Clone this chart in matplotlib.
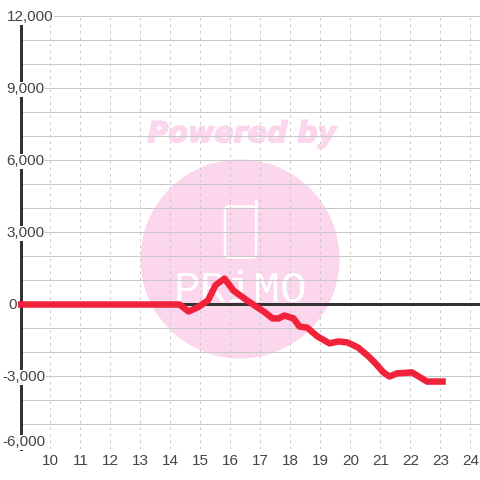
#!/usr/bin/env python
import matplotlib
matplotlib.use('Agg')
import matplotlib.pyplot as plt
import matplotlib.patheffects as pe
from matplotlib.patches import Circle, FancyBboxPatch

# values
hours = [8.96, 14.3, 14.6, 14.9, 15.25, 15.5, 15.8, 16.1, 16.55, 17.15, 17.4, 17.6, 17.8, 18.1,
         18.3, 18.55, 18.9, 19.3, 19.6, 19.9, 20.25, 20.6, 20.8, 21.1, 21.3, 21.55, 22.05,
         22.55, 23.07]
profit = [0, 0, -290, -125, 170, 800, 1080, 580, 170, -330, -580, -580, -460, -580,
          -920, -960, -1330, -1620, -1540, -1580, -1790, -2160, -2410, -2830, -3000, -2870, -2830,
          -3210, -3210]
xticks = list(range(10, 25))
yticks = list(range(-6000, 12001, 1000))
ylabels = [(12000, '12,000', -14, -1), (9000, '9,000', -14, -1), (6000, '6,000', -14, -1),
           (3000, '3,000', -14, -1), (0, '0', -12, -1), (-3000, '-3,000', -18, -1),
           (-6000, '-6,000', -18, 6)]

DARK = '#333333'
GRID = '#c8c8c8'
TEXT = '#444444'
PINK = '#fbd6ec'
PX = 0.72  # one pixel in points at dpi 100

plt.rcParams['font.family'] = ['Liberation Sans', 'DejaVu Sans']

fig = plt.figure(figsize=(4.8, 4.8), dpi=100)

# watermark sits behind everything, in pixel coordinates
bg = fig.add_axes([0, 0, 1, 1], zorder=0)
bg.set_xlim(0, 480)
bg.set_ylim(480, 0)
bg.axis('off')
bg.add_patch(Circle((240, 259), 99.5, fc=PINK, ec='none'))
bg.add_patch(FancyBboxPatch((225, 206.5), 31, 51, boxstyle='round,pad=0,rounding_size=4',
                            fc='none', ec='white', lw=2.5 * PX))
bg.plot([255.5, 255.5], [201, 209], color='white', lw=3 * PX, solid_capstyle='round')
bg.text(242, 134, 'Powered by', color=PINK, family='DejaVu Sans', weight='bold', style='italic',
        fontsize=20.5, ha='center', va='center',
        path_effects=[pe.withStroke(linewidth=1.2, foreground=PINK)])
bg.text(240, 291, 'PRiMO', color='white', family='Liberation Mono', fontsize=32,
        ha='center', va='center')

# main plot: x 20.5-480 px, y 16.5-448.5 px
ax = fig.add_axes([20.5 / 480, 1 - 448.5 / 480, 459.5 / 480, 432 / 480], zorder=1)
ax.patch.set_visible(False)
ax.set_xlim(9, 24.317)
ax.set_ylim(-6000, 12000)
for side in ['top', 'right', 'bottom']:
    ax.spines[side].set_visible(False)
ax.spines['left'].set_linewidth(3 * PX)
ax.spines['left'].set_color(DARK)

ax.set_xticks(xticks)
ax.set_xticklabels([str(x) for x in xticks], fontsize=11, color=TEXT)
ax.set_yticks(yticks)
ax.set_yticklabels([])
ax.tick_params(axis='both', length=0)
ax.tick_params(axis='x', pad=4)
ax.set_axisbelow(True)
ax.grid(axis='y', color=GRID, lw=1 * PX)
ax.grid(axis='x', color=GRID, lw=1 * PX, linestyle=(0, (2.5, 4)))

ax.axhline(0, color=DARK, lw=3 * PX, zorder=2)
ax.plot(hours, profit, color='#f0233a', lw=6.5 * PX, zorder=4, clip_on=False,
        solid_joinstyle='round', solid_capstyle='projecting')

for val, lab, dx, dy in ylabels:
    ax.annotate(lab, xy=(0, val), xycoords=ax.get_yaxis_transform(), xytext=(dx, dy),
                textcoords='offset pixels', ha='left', va='center', fontsize=11, color=TEXT,
                zorder=5, annotation_clip=False,
                bbox=dict(fc='white', ec='none', pad=0.5))

fig.savefig('out.png', dpi=100)
